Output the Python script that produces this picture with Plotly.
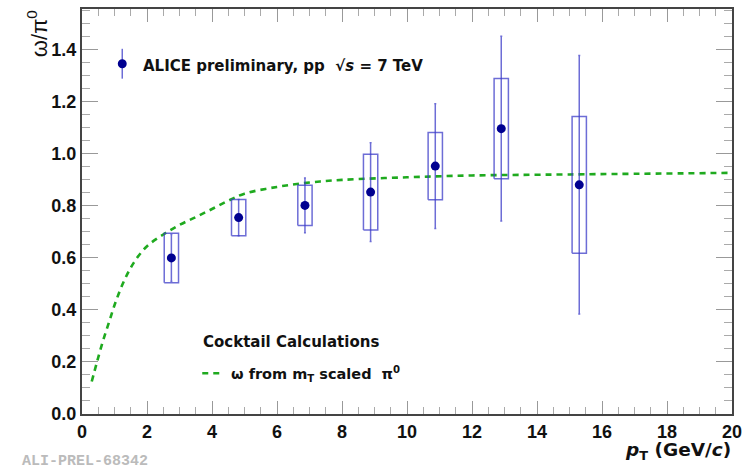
import plotly.graph_objects as go

# ---- data ----
pt = [2.75, 4.82, 6.86, 8.88, 10.87, 12.9, 15.3]
ratio = [0.600, 0.755, 0.802, 0.853, 0.953, 1.097, 0.881]
stat_err = [0.09, 0.07, 0.105, 0.19, 0.24, 0.355, 0.497]
sys_err = [0.095, 0.07, 0.077, 0.146, 0.129, 0.193, 0.263]

cocktail_pt = [0.3, 0.45, 0.65, 0.85, 1.05, 1.3, 1.6, 2.0, 2.5, 3.0, 3.5, 4.0,
               4.5, 5.0, 6.0, 7.0, 8.0, 10.0, 12.0, 15.0, 20.0]
cocktail_ratio = [0.125, 0.195, 0.283, 0.360, 0.436, 0.513, 0.583, 0.645, 0.690,
                  0.727, 0.757, 0.788, 0.820, 0.847, 0.873, 0.890, 0.900, 0.910,
                  0.917, 0.921, 0.927]

x_ticks = [0, 2, 4, 6, 8, 10, 12, 14, 16, 18, 20]
y_ticks = [0.0, 0.2, 0.4, 0.6, 0.8, 1.0, 1.2, 1.4]

# ---- layout geometry (pixels) ----
W, H = 749, 469
L, R, T, B = 82, 13, 7, 55
PW, PH = W - L - R, H - T - B


def px(xp):
    return (xp - L) / PW


def py(yp):
    return (H - B - yp) / PH


FONT = "Liberation Sans"
WIDE = "DejaVu Sans"
BOX_COL = "rgba(60,60,200,0.75)"
MARK_COL = "#000090"
GREEN = "#1faa1f"

fig = go.Figure()

# cocktail curve
fig.add_trace(go.Scatter(x=cocktail_pt, y=cocktail_ratio, mode="lines",
                         line=dict(color=GREEN, width=2.6, dash="6px,5px"),
                         line_shape="spline", hoverinfo="skip"))

# systematic boxes
hw = 0.22
bx, by = [], []
for x, y, s in zip(pt, ratio, sys_err):
    bx += [x - hw, x + hw, x + hw, x - hw, x - hw, None]
    by += [y - s, y - s, y + s, y + s, y - s, None]
fig.add_trace(go.Scatter(x=bx, y=by, mode="lines",
                         line=dict(color=BOX_COL, width=1.5), hoverinfo="skip"))

# data points with statistical errors
fig.add_trace(go.Scatter(x=pt, y=ratio, mode="markers",
                         marker=dict(color=MARK_COL, size=9),
                         error_y=dict(type="data", array=stat_err, color=BOX_COL,
                                      thickness=1.5, width=1)))

# ---- annotations ----
ann = []
ann.append(dict(x=px(141), y=py(64), xref="paper", yref="paper", xanchor="left",
                yanchor="middle", showarrow=False,
                text="<b>ALICE preliminary, pp  √<i>s</i> = 7 TeV</b>",
                font=dict(family=WIDE, size=15, color="#111")))
ann.append(dict(x=px(202), y=py(342), xref="paper", yref="paper", xanchor="left",
                yanchor="middle", showarrow=False,
                text="<b>Cocktail Calculations</b>",
                font=dict(family=WIDE, size=15, color="#111")))
ann.append(dict(x=px(230), y=py(374), xref="paper", yref="paper", xanchor="left",
                yanchor="middle", showarrow=False,
                text="<b>ω from m<sub>T</sub> scaled  π<sup>0</sup></b>",
                font=dict(family=WIDE, size=14.5, color="#111")))
ann.append(dict(x=px(737), y=py(451), xref="paper", yref="paper", xanchor="right",
                yanchor="middle", showarrow=False,
                text="<b><i>p</i><sub>T</sub> (GeV/<i>c</i>)</b>",
                font=dict(family=WIDE, size=18.5, color="#111")))
ann.append(dict(x=px(37), y=py(32), xref="paper", yref="paper", xanchor="center",
                yanchor="middle", showarrow=False, textangle=-90,
                text="ω/π<sup>0</sup>",
                font=dict(family=FONT, size=22, color="#111")))
ann.append(dict(x=px(20), y=py(462), xref="paper", yref="paper", xanchor="left",
                yanchor="middle", showarrow=False,
                text="<b>ALI-PREL-68342</b>",
                font=dict(family="Liberation Mono", size=15, color="#bbbbbb")))

shapes = []
# legend marker for data
shapes.append(dict(type="line", xref="paper", yref="paper",
                   x0=px(122.5), x1=px(122.5), y0=py(47), y1=py(77),
                   line=dict(color=BOX_COL, width=1.5)))
r = 4.5
shapes.append(dict(type="circle", xref="paper", yref="paper",
                   x0=px(122.5 - r), x1=px(122.5 + r), y0=py(62 + r), y1=py(62 - r),
                   fillcolor=MARK_COL, line=dict(color=MARK_COL, width=0)))
# legend dashed line for cocktail
shapes.append(dict(type="line", xref="paper", yref="paper",
                   x0=px(203), x1=px(225), y0=py(373), y1=py(373),
                   line=dict(color=GREEN, width=2.6, dash="6px,5px")))

fig.update_layout(
    width=W, height=H,
    margin=dict(l=L, r=R, t=T, b=B),
    paper_bgcolor="white", plot_bgcolor="white",
    showlegend=False,
    annotations=ann, shapes=shapes,
    xaxis=dict(range=[0, 20], tickvals=x_ticks, ticktext=[str(v) for v in x_ticks],
               ticks="inside", ticklen=13, tickwidth=1.3, tickcolor="#999",
               minor=dict(dtick=0.5, ticks="inside", ticklen=7, tickwidth=1.1,
                          tickcolor="#aaa", showgrid=False),
               showline=True, linecolor="#444", linewidth=2, mirror="allticks",
               showgrid=False, zeroline=False,
               tickfont=dict(family=FONT, size=18, color="#111", weight="bold")),
    yaxis=dict(range=[0, 1.557], tickvals=y_ticks,
               ticktext=[f"{v:.1f}" for v in y_ticks],
               ticks="inside", ticklen=16, tickwidth=1.3, tickcolor="#999",
               minor=dict(dtick=0.05, ticks="inside", ticklen=8, tickwidth=1.1,
                          tickcolor="#aaa", showgrid=False),
               showline=True, linecolor="#444", linewidth=2, mirror="allticks",
               showgrid=False, zeroline=False,
               tickfont=dict(family=FONT, size=18, color="#111", weight="bold")),
)

fig.write_html("out.html")
